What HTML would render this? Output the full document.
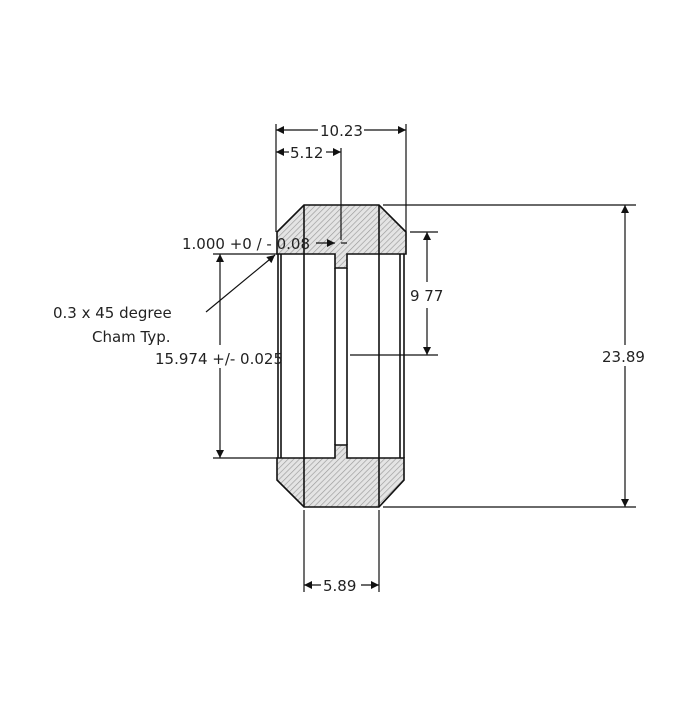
<!DOCTYPE html>
<html><head><meta charset="utf-8"><style>html,body{margin:0;padding:0;background:#fff}</style></head>
<body>
<svg width="700" height="700" viewBox="0 0 700 700" xmlns="http://www.w3.org/2000/svg" font-family="'DejaVu Sans', 'Liberation Sans', sans-serif" font-size="15" fill="#222">
<defs>
<pattern id="h" width="4" height="4" patternUnits="userSpaceOnUse" patternTransform="rotate(45)">
<rect width="4" height="4" fill="#e4e4e4"/><line x1="0" y1="0" x2="0" y2="4" stroke="#9a9a9a" stroke-width="1.3"/>
</pattern>
<marker id="a" viewBox="0 0 10 10" refX="10" refY="5" markerWidth="11" markerHeight="8" orient="auto-start-reverse" markerUnits="userSpaceOnUse"><path d="M0,0 L10,5 L0,10 z" fill="#111"/></marker>
</defs>
<g stroke="#111" stroke-width="1.6" fill="none">
<path d="M304,205 L379,205 L406,232 L406,254 L347,254 L347,268 L335,268 L335,254 L277,254 L277,232 Z" fill="url(#h)"/>
<path d="M277,458 L335,458 L335,445 L347,445 L347,458 L404,458 L404,480 L379,507 L304,507 L277,480 Z" fill="url(#h)"/>
<line x1="304" y1="205" x2="304" y2="507"/>
<line x1="379" y1="205" x2="379" y2="507"/>
<line x1="278" y1="254" x2="278" y2="458"/>
<line x1="281" y1="254" x2="281" y2="458"/>
<line x1="335" y1="268" x2="335" y2="445"/>
<line x1="347" y1="268" x2="347" y2="445"/>
<line x1="400" y1="254" x2="400" y2="458"/>
<line x1="404" y1="254" x2="404" y2="458"/>
</g>
<g stroke="#111" stroke-width="1.2" fill="none">
<line x1="276" y1="124" x2="276" y2="232"/>
<line x1="406" y1="124" x2="406" y2="232"/>
<line x1="341" y1="148" x2="341" y2="240"/>
<line x1="383" y1="205" x2="636" y2="205"/>
<line x1="383" y1="507" x2="636" y2="507"/>
<line x1="410" y1="232" x2="438" y2="232"/>
<line x1="350" y1="355" x2="438" y2="355"/>
<line x1="213" y1="254" x2="277" y2="254"/>
<line x1="213" y1="458" x2="277" y2="458"/>
<line x1="304" y1="510" x2="304" y2="592"/>
<line x1="379" y1="510" x2="379" y2="592"/>
<line x1="276" y1="130" x2="318" y2="130" marker-start="url(#a)"/>
<line x1="364" y1="130" x2="406" y2="130" marker-end="url(#a)"/>
<line x1="276" y1="152" x2="289" y2="152" marker-start="url(#a)"/>
<line x1="326" y1="152" x2="341" y2="152" marker-end="url(#a)"/>
<line x1="316" y1="243" x2="335" y2="243" marker-end="url(#a)"/>
<line x1="347" y1="243" x2="341" y2="243"/>
<line x1="427" y1="232" x2="427" y2="282" marker-start="url(#a)"/>
<line x1="427" y1="308" x2="427" y2="355" marker-end="url(#a)"/>
<line x1="625" y1="205" x2="625" y2="345" marker-start="url(#a)"/>
<line x1="625" y1="366" x2="625" y2="507" marker-end="url(#a)"/>
<line x1="220" y1="254" x2="220" y2="345" marker-start="url(#a)"/>
<line x1="220" y1="368" x2="220" y2="458" marker-end="url(#a)"/>
<line x1="304" y1="585" x2="321" y2="585" marker-start="url(#a)"/>
<line x1="361" y1="585" x2="379" y2="585" marker-end="url(#a)"/>
<line x1="206" y1="312" x2="275" y2="255" marker-end="url(#a)"/>
</g>
<text x="320" y="136">10.23</text>
<text x="290" y="158">5.12</text>
<text x="182" y="249">1.000 +0 / - 0.08</text>
<text x="410" y="301">9 77</text>
<text x="602" y="362">23.89</text>
<text x="53" y="318">0.3 x 45 degree</text>
<text x="92" y="342">Cham Typ.</text>
<text x="155" y="364">15.974 +/- 0.025</text>
<text x="323" y="591">5.89</text>
</svg>
</body></html>
